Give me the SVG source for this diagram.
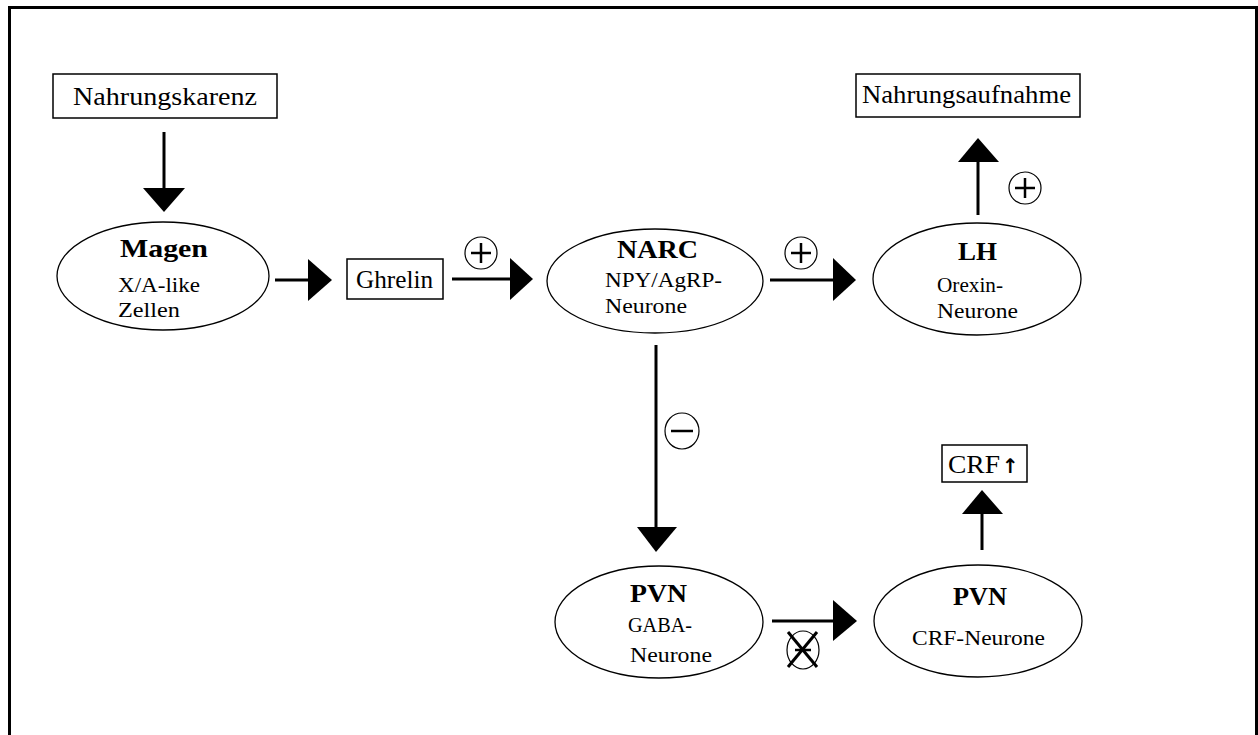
<svg xmlns="http://www.w3.org/2000/svg" width="1258" height="735" viewBox="0 0 1258 735">
<style>
text{font-family:"Liberation Serif","DejaVu Serif",serif;fill:#000}
.h{font-size:26px;font-weight:bold}
.s{font-size:20px}
.b{font-size:25px}
.box{fill:#fff;stroke:#000;stroke-width:1.5}
.ell{fill:#fff;stroke:#000;stroke-width:1.3}
.ln{stroke:#000;stroke-width:3;fill:none}
.hd{fill:#000}
.sig{fill:#fff;stroke:#000;stroke-width:1.2}
.sg{stroke:#000;stroke-width:2.5}
.x{stroke:#000;stroke-width:3}
</style>
<rect x="0" y="0" width="1258" height="735" fill="#fff"/>
<path d="M9.5 735 V7.5 H1256.5 V735" fill="none" stroke="#000" stroke-width="3"/>

<g id="nahrungskarenz">
<rect class="box" x="53" y="74" width="224" height="44"/>
<text x="73" y="105" class="b" textLength="184" lengthAdjust="spacingAndGlyphs">Nahrungskarenz</text>
</g>
<g id="magen">
<ellipse class="ell" cx="163" cy="276" rx="106" ry="54"/>
<text x="120" y="257" class="h" textLength="88" lengthAdjust="spacingAndGlyphs">Magen</text>
<text x="118" y="292" class="s" textLength="82" lengthAdjust="spacingAndGlyphs">X/A-like</text>
<text x="118" y="317" class="s" textLength="62" lengthAdjust="spacingAndGlyphs">Zellen</text>
</g>
<g id="ghrelin">
<rect class="box" x="347" y="259" width="96" height="40"/>
<text x="356" y="288" class="b" textLength="77" lengthAdjust="spacingAndGlyphs">Ghrelin</text>
</g>
<g id="narc">
<ellipse class="ell" cx="655" cy="281" rx="108" ry="52"/>
<text x="617" y="258" class="h" textLength="81" lengthAdjust="spacingAndGlyphs">NARC</text>
<text x="605" y="287" class="s" textLength="117" lengthAdjust="spacingAndGlyphs">NPY/AgRP-</text>
<text x="605" y="313" class="s" textLength="82" lengthAdjust="spacingAndGlyphs">Neurone</text>
</g>
<g id="lh">
<ellipse class="ell" cx="977" cy="279" rx="104" ry="56"/>
<text x="958" y="260" class="h" textLength="39" lengthAdjust="spacingAndGlyphs">LH</text>
<text x="937" y="292" class="s" textLength="66" lengthAdjust="spacingAndGlyphs">Orexin-</text>
<text x="937" y="318" class="s" textLength="81" lengthAdjust="spacingAndGlyphs">Neurone</text>
</g>
<g id="nahrungsaufnahme">
<rect class="box" x="856" y="74" width="224" height="43"/>
<text x="862" y="103" class="b" textLength="209" lengthAdjust="spacingAndGlyphs">Nahrungsaufnahme</text>
</g>
<g id="pvn-gaba">
<ellipse class="ell" cx="659" cy="622" rx="104" ry="56"/>
<text x="630" y="602" class="h" textLength="57" lengthAdjust="spacingAndGlyphs">PVN</text>
<text x="628" y="632" class="s" textLength="64" lengthAdjust="spacingAndGlyphs">GABA-</text>
<text x="630" y="662" class="s" textLength="82" lengthAdjust="spacingAndGlyphs">Neurone</text>
</g>
<g id="pvn-crf">
<ellipse class="ell" cx="978" cy="621" rx="104" ry="56"/>
<text x="953" y="605" class="h" textLength="54" lengthAdjust="spacingAndGlyphs">PVN</text>
<text x="912" y="645" class="s" textLength="133" lengthAdjust="spacingAndGlyphs">CRF-Neurone</text>
</g>
<g id="crf">
<rect class="box" x="942" y="445" width="85" height="37"/>
<text x="948" y="473" class="b"><tspan textLength="52" lengthAdjust="spacingAndGlyphs">CRF</tspan><tspan x="1002" font-family="DejaVu Sans" font-weight="bold" font-size="20">↑</tspan></text>
</g>

<g id="connectors">
<line class="ln" x1="164" y1="132" x2="164" y2="190"/>
<polygon class="hd" points="143,188 185,188 164,212"/>
<line class="ln" x1="275" y1="280" x2="310" y2="280"/>
<polygon class="hd" points="308,259 308,301 332,280"/>
<line class="ln" x1="452" y1="279" x2="512" y2="279"/>
<polygon class="hd" points="510,258 510,300 533,279"/>
<line class="ln" x1="770" y1="280" x2="835" y2="280"/>
<polygon class="hd" points="833,258 833,301 856,280"/>
<line class="ln" x1="978" y1="215" x2="978" y2="160"/>
<polygon class="hd" points="958,162 999,162 978,138"/>
<line class="ln" x1="656" y1="345" x2="656" y2="529"/>
<polygon class="hd" points="637,527 677,527 656,552"/>
<line class="ln" x1="772" y1="621" x2="835" y2="621"/>
<polygon class="hd" points="833,600 833,641 857,621"/>
<line class="ln" x1="982" y1="550" x2="982" y2="512"/>
<polygon class="hd" points="962,514 1003,514 982,490"/>

<g id="sign-plus-1">
<circle class="sig" cx="481" cy="253" r="16"/>
<line class="sg" x1="471" y1="253" x2="491" y2="253"/><line class="sg" x1="481" y1="243" x2="481" y2="263"/>
</g>
<g id="sign-plus-2">
<circle class="sig" cx="801" cy="253" r="16"/>
<line class="sg" x1="791" y1="253" x2="811" y2="253"/><line class="sg" x1="801" y1="243" x2="801" y2="263"/>
</g>
<g id="sign-plus-3">
<circle class="sig" cx="1025" cy="188" r="16"/>
<line class="sg" x1="1015" y1="188" x2="1035" y2="188"/><line class="sg" x1="1025" y1="178" x2="1025" y2="198"/>
</g>
<g id="sign-minus">
<ellipse class="sig" cx="682" cy="431" rx="17" ry="18"/>
<line class="sg" x1="671" y1="431" x2="693" y2="431"/>
</g>
<g id="sign-crossed">
<ellipse class="sig" cx="803" cy="650" rx="16" ry="19"/>
<line class="sg" x1="795" y1="650" x2="811" y2="650" stroke-width="2"/>
<line class="x" x1="788" y1="632" x2="817" y2="667"/>
<line class="x" x1="817" y1="632" x2="788" y2="667"/>
</g>
</g>
</svg>
